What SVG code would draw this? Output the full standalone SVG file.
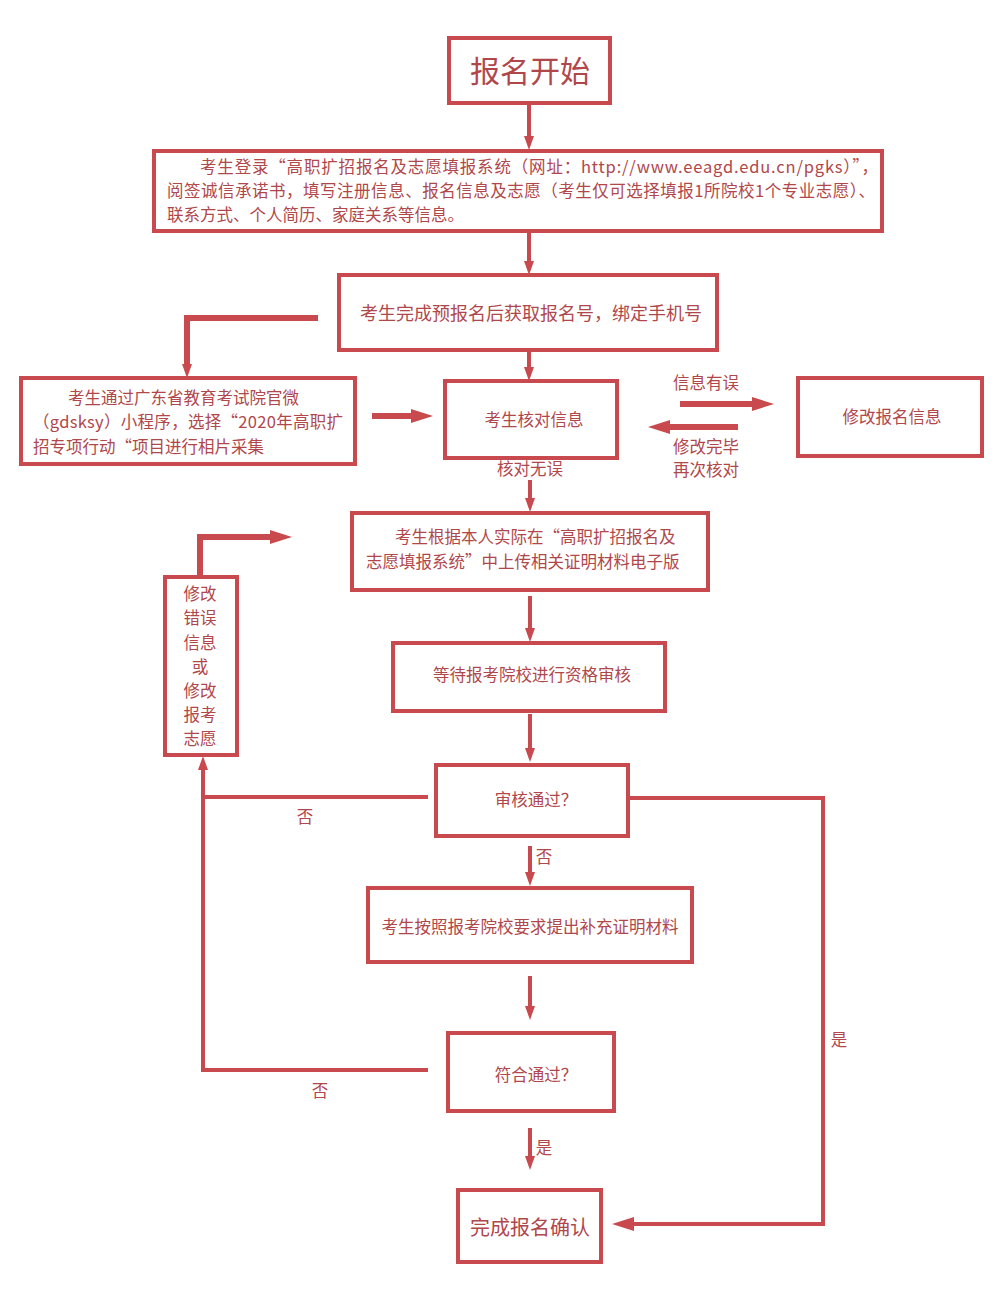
<svg xmlns="http://www.w3.org/2000/svg" width="1000" height="1308" viewBox="0 0 1000 1308">
<style>
.box{fill:#fff;stroke:#c94a4e;stroke-width:4}
.t{font-family:"Noto Sans CJK SC","Noto Sans",sans-serif;fill:#b0474b;font-size:16.5px}
.c{text-anchor:middle}
.ln{fill:none;stroke:#c94a4e;stroke-width:4}
.thk{fill:none;stroke:#c94a4e;stroke-width:6}
</style>
<defs>
<marker id="a" markerUnits="userSpaceOnUse" markerWidth="14" markerHeight="12" refX="0" refY="6" orient="auto"><path d="M0,1 L14,6 L0,11 z" fill="#c94a4e"/></marker>
<marker id="b" markerUnits="userSpaceOnUse" markerWidth="22" markerHeight="16" refX="0" refY="8" orient="auto"><path d="M0,1 L22,8 L0,15 z" fill="#c94a4e"/></marker>
</defs>
<rect width="1000" height="1308" fill="#fff"/>
<g id="connectors">
<path class="ln" d="M529,104 V136" marker-end="url(#a)"/>
<path class="ln" d="M529,232 V261" marker-end="url(#a)"/>
<path class="ln" d="M529,351 V367" marker-end="url(#a)"/>
<path class="thk" d="M318,318 H187 V364" marker-end="url(#a)"/>
<path class="thk" d="M372,416 H411" marker-end="url(#b)"/>
<path class="thk" d="M680,404 H752" marker-end="url(#b)"/>
<path class="thk" d="M738,427 H670" marker-end="url(#b)"/>
<path class="ln" d="M530,480 V498" marker-end="url(#a)"/>
<path class="ln" d="M530,596 V628" marker-end="url(#a)"/>
<path class="ln" d="M530,714 V748" marker-end="url(#a)"/>
<path class="ln" d="M530,846 V872" marker-end="url(#a)"/>
<path class="ln" d="M530,976 V1006" marker-end="url(#a)"/>
<path class="ln" d="M530,1128 V1156" marker-end="url(#a)"/>
<path class="ln" d="M428,797 H203"/>
<path class="ln" d="M428,1070 H203 V770" marker-end="url(#a)"/>
<path class="thk" d="M200,577 V537 H270" marker-end="url(#b)"/>
<path class="ln" d="M628,798 H823 V1224 H634" marker-end="url(#b)"/>
<text class="t c" x="706" y="389">信息有误</text>
<text class="t c" x="706" y="453">修改完毕</text>
<text class="t c" x="706" y="476">再次核对</text>
<text class="t c" x="530" y="475">核对无误</text>
<text class="t c" x="305" y="823">否</text>
<text class="t c" x="544" y="863">否</text>
<text class="t c" x="320" y="1097">否</text>
<text class="t c" x="544" y="1154">是</text>
<text class="t c" x="839" y="1046">是</text>
</g>
<g id="n1"><rect class="box" x="449" y="38" width="161" height="65"/><text class="t c" x="530" y="82" style="font-size:30px">报名开始</text></g>
<g id="n2"><rect class="box" x="154" y="151" width="728" height="80"/>
<text class="t" x="200" y="173" textLength="678" lengthAdjust="spacing">考生登录“高职扩招报名及志愿填报系统（网址：http://www.eeagd.edu.cn/pgks）”，</text>
<text class="t" x="167" y="197" textLength="708" lengthAdjust="spacing">阅签诚信承诺书，填写注册信息、报名信息及志愿（考生仅可选择填报1所院校1个专业志愿）、</text>
<text class="t" x="167" y="221">联系方式、个人简历、家庭关系等信息。</text></g>
<g id="n3"><rect class="box" x="339" y="275" width="378" height="75"/><text class="t c" x="531" y="320" style="font-size:18px">考生完成预报名后获取报名号，绑定手机号</text></g>
<g id="n4"><rect class="box" x="21" y="378" width="334" height="86"/>
<text class="t" x="68" y="404">考生通过广东省教育考试院官微</text>
<text class="t" x="33" y="428" textLength="310" lengthAdjust="spacing">（gdsksy）小程序，选择“2020年高职扩</text>
<text class="t" x="33" y="453">招专项行动“项目进行相片采集</text></g>
<g id="n5"><rect class="box" x="445" y="381" width="172" height="77"/><text class="t c" x="534" y="426">考生核对信息</text></g>
<g id="n6"><rect class="box" x="798" y="378" width="184" height="78"/><text class="t c" x="892" y="423">修改报名信息</text></g>
<g id="n7"><rect class="box" x="352" y="513" width="356" height="77"/>
<text class="t" x="395" y="543">考生根据本人实际在“高职扩招报名及</text>
<text class="t" x="366" y="568">志愿填报系统”中上传相关证明材料电子版</text></g>
<g id="n8"><rect class="box" x="393" y="643" width="272" height="68"/><text class="t c" x="532" y="681">等待报考院校进行资格审核</text></g>
<g id="n9"><rect class="box" x="436" y="765" width="192" height="71"/><text class="t c" x="536" y="806">审核通过？</text></g>
<g id="n10"><rect class="box" x="165" y="577" width="72" height="178"/>
<text class="t c" x="200" y="600">修改</text>
<text class="t c" x="200" y="624">错误</text>
<text class="t c" x="200" y="649">信息</text>
<text class="t c" x="200" y="673">或</text>
<text class="t c" x="200" y="697">修改</text>
<text class="t c" x="200" y="721">报考</text>
<text class="t c" x="200" y="745">志愿</text></g>
<g id="n11"><rect class="box" x="368" y="888" width="324" height="74"/><text class="t c" x="530" y="933">考生按照报考院校要求提出补充证明材料</text></g>
<g id="n12"><rect class="box" x="448" y="1033" width="166" height="78"/><text class="t c" x="536" y="1081">符合通过？</text></g>
<g id="n13"><rect class="box" x="458" y="1190" width="143" height="72"/><text class="t c" x="530" y="1235" style="font-size:20px">完成报名确认</text></g>
</svg>
